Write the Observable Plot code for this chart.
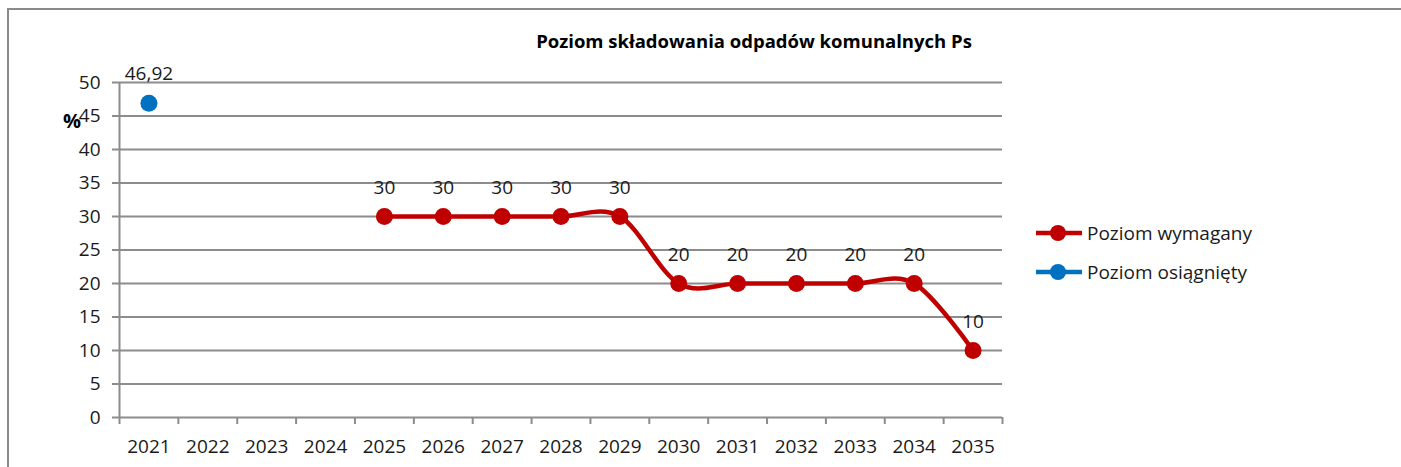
<!DOCTYPE html>
<html>
<head>
<meta charset="utf-8">
<script src="https://cdn.jsdelivr.net/npm/d3@7"></script>
<script src="https://cdn.jsdelivr.net/npm/@observablehq/plot@0.6"></script>
<style>
  html, body { margin: 0; padding: 0; background: #fff; }
  #wrap { position: relative; width: 1401px; height: 467px; overflow: hidden; font-family: "Open Sans", sans-serif; }
  #frame { position: absolute; left: 7px; top: 8px; width: 1500px; height: 600px; border-left: 2px solid #8a8a8a; border-top: 2px solid #8a8a8a; }
  #title { position: absolute; left: 0; width: 1508px; top: 28px; line-height: 26px; text-align: center; font-weight: bold; font-size: 18.5px; color: #000; }
  #pct { position: absolute; left: 63px; top: 107px; font-size: 20px; font-weight: bold; color: #000; }
  #legend { position: absolute; left: 1034px; top: 215px; }
  #chart { position: absolute; left: 0; top: 0; }
</style>
</head>
<body>
<div id="wrap">
  <div id="frame"></div>
  <div id="chart"></div>
  <div id="title">Poziom składowania odpadów komunalnych Ps</div>
  <div id="pct">%</div>
  <div id="legend"></div>
</div>
<script>
const years = [2021, 2022, 2023, 2024, 2025, 2026, 2027, 2028, 2029, 2030, 2031, 2032, 2033, 2034, 2035];
const requiredYears = [2025, 2026, 2027, 2028, 2029, 2030, 2031, 2032, 2033, 2034, 2035];
const requiredValues = [30, 30, 30, 30, 30, 20, 20, 20, 20, 20, 10];
const achievedYears = [2021];
const achievedValues = [46.92];
const yTicks = [0, 5, 10, 15, 20, 25, 30, 35, 40, 45, 50];
const seriesNames = ["Poziom wymagany", "Poziom osiągnięty"];
const seriesColors = ["#C00000", "#0070C0"];

const required = requiredYears.map((y, i) => ({year: y, value: requiredValues[i]}));
const achieved = achievedYears.map((y, i) => ({year: y, value: achievedValues[i]}));
const boundaries = [...years.map(y => y - 0.5), years[years.length - 1] + 0.5];
const fmt = v => String(v).replace(".", ",");

const gridColor = "#8c8c8c";
const font = "Open Sans, sans-serif";

const chart = Plot.plot({
  width: 1401,
  height: 467,
  marginLeft: 119,
  marginRight: 399,
  marginTop: 82,
  marginBottom: 50,
  style: {fontFamily: font, fontSize: "19px", color: "#1a1a1a", background: "transparent"},
  x: {type: "linear", domain: [years[0] - 0.5, years[years.length - 1] + 0.5]},
  y: {domain: [0, 50]},
  marks: [
    Plot.ruleY(yTicks, {stroke: gridColor, strokeWidth: 2}),
    Plot.ruleX([years[0] - 0.5], {stroke: gridColor, strokeWidth: 2, y1: 0, y2: 50}),
    Plot.axisY({ticks: yTicks, tickSize: 7, tickPadding: 12, stroke: gridColor, strokeWidth: 2, label: null, fill: "#1a1a1a"}),
    Plot.axisX({ticks: boundaries, tickSize: 7, text: null, stroke: gridColor, strokeWidth: 2, label: null}),
    Plot.axisX({ticks: years, tickSize: 0, tickPadding: 22, tickFormat: d => String(d), label: null, fill: "#1a1a1a"}),
    Plot.line(required, {x: "year", y: "value", stroke: seriesColors[0], strokeWidth: 4.5, curve: "cardinal"}),
    Plot.dot(required, {x: "year", y: "value", fill: seriesColors[0], r: 8.5}),
    Plot.dot(achieved, {x: "year", y: "value", fill: seriesColors[1], r: 8.5}),
    Plot.text(required, {x: "year", y: "value", text: d => fmt(d.value), dy: -29, fill: "#1a1a1a", fontSize: 19}),
    Plot.text(achieved, {x: "year", y: "value", text: d => fmt(d.value), dy: -29, fill: "#1a1a1a", fontSize: 19})
  ]
});
document.getElementById("chart").appendChild(chart);

// Legend
const lg = d3.select("#legend").append("svg").attr("width", 300).attr("height", 80);
seriesNames.forEach((name, i) => {
  const g = lg.append("g").attr("transform", `translate(0,${18 + i * 39})`);
  g.append("line").attr("x1", 2).attr("x2", 48).attr("y1", 0).attr("y2", 0)
    .attr("stroke", seriesColors[i]).attr("stroke-width", 4.5);
  g.append("circle").attr("cx", 24).attr("cy", 0).attr("r", 8).attr("fill", seriesColors[i]);
  g.append("text").attr("x", 53).attr("y", 0).attr("dy", "0.35em")
    .attr("font-family", font).attr("font-size", 19).attr("fill", "#1a1a1a").text(name);
});
</script>
</body>
</html>
